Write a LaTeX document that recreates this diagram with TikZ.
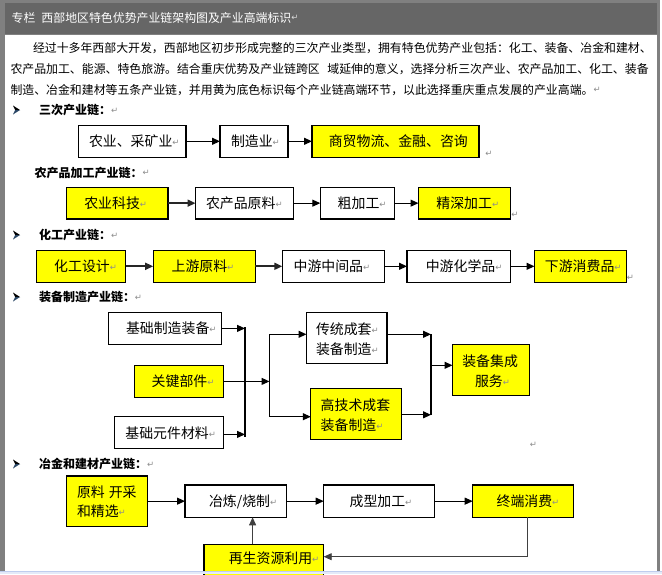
\documentclass[tikz,border=0pt]{standalone}
\usepackage{fontspec}
\setmainfont{Noto Sans CJK SC}
\newfontfamily\djv{DejaVu Sans}
\usetikzlibrary{arrows.meta}
\definecolor{framegray}{HTML}{808080}
\definecolor{hdrgray}{HTML}{666666}
\definecolor{ylw}{HTML}{FFFF00}
\definecolor{pmg}{HTML}{8C8C8C}
\definecolor{winblue}{HTML}{BFCDEE}
\definecolor{winblue2}{HTML}{E4EAF8}
\definecolor{bulblue}{HTML}{2B4766}
\newcommand{\pmk}{{\mdseries\djv\fontsize{8.5}{9}\selectfont\color{pmg}\raisebox{1.2pt}{↵}}}
\newcommand{\pmkw}{{\mdseries\djv\fontsize{8.5}{9}\selectfont\color{white!85!black}\raisebox{1.2pt}{↵}}}
\newcommand{\tx}[5]{\node[txt,font=\fontsize{#4}{#4}\selectfont] (#1) at (#2,{#3+0.38*#4}) {#5};}
\newcommand{\bx}[6]{\node[boxs,fill=#6,minimum width={#4-#2},minimum height={#5-#3}] (#1) at ({(#2+#4)/2},{(#3+#5)/2}) {};}
\newcommand{\bul}[1]{%
  \fill[black] (13,#1-4.5) -- (20,#1) -- (15.2,#1) -- cycle;
  \fill[bulblue] (15.2,#1) -- (20,#1) -- (13,#1+4.5) -- cycle;}
\tikzset{
  boxs/.style={draw=black, line width=1.1pt, inner sep=0pt, outer sep=0pt},
  txt/.style={inner sep=0pt, outer sep=0pt, anchor=base west},
  arr/.style={line width=1.1pt, -{Triangle[length=8pt,width=7pt]}},
  arrb/.style={arr, line width=1.7pt, draw=black!85},
  ln/.style={line width=1.1pt},
  fbl/.style={arr, line width=0.9pt, draw=black!75},
  pmnode/.style={inner sep=0pt, outer sep=0pt},
}
\begin{document}
\begin{tikzpicture}[x=1pt,y=-1pt]
\useasboundingbox (0,0) rectangle (662,574);
\clip (0,0) rectangle (662,574);
% frame
\fill[white] (0,0) rectangle (662,574);
\fill[framegray] (0,0) rectangle (660,571.5);
\fill[hdrgray] (4.5,3.3) rectangle (656.5,34);
\fill[white] (4.5,34.5) rectangle (656.5,571.5);

% header and paragraph
\tx{hd}{11.7}{17.5}{11.9}{\color{white}专栏\hspace{6pt}西部地区特色优势产业链架构图及产业高端标识\pmkw}
\tx{p1}{33}{47.5}{11.9}{经过十多年西部大开发，西部地区初步形成完整的三次产业类型，拥有特色优势产业包括：化工、装备、冶金和建材、}
\tx{p2}{10.5}{68.5}{11.9}{农产品加工、能源、特色旅游。结合重庆优势及产业链跨区\hspace{7.5pt}域延伸的意义，选择分析三次产业、农产品加工、化工、装备}
\tx{p3}{10.5}{89.5}{11.9}{制造、冶金和建材等五条产业链，并用黄为底色标识每个产业链高端环节，以此选择重庆重点发展的产业高端。\pmk}

% headings
\bul{110}
\tx{h1}{39}{110}{12}{\bfseries 三次产业链：\pmk}
\tx{h2}{34.7}{172.5}{12}{\bfseries 农产品加工产业链：\pmk}
\bul{235}
\tx{h3}{39}{235}{12}{\bfseries 化工产业链：\pmk}
\bul{297}
\tx{h4}{39}{297}{12}{\bfseries 装备制造产业链：\pmk}
\bul{464}
\tx{h5}{39}{464}{12}{\bfseries 冶金和建材产业链：\pmk}

% chain 1
\bx{b11}{78.5}{125.3}{186}{157.3}{white}
\bx{b12}{220}{125.3}{288}{157.3}{white}
\bx{b13}{312}{125.3}{479}{157.3}{ylw}
\tx{t11}{89}{141.3}{13.9}{农业、采矿业\pmk}
\tx{t12}{231}{141.3}{13.9}{制造业\pmk}
\tx{t13}{328.8}{141.3}{13.9}{商贸物流、金融、咨询}
\draw[arr] (b11) -- (b12);
\draw[arr] (b12) -- (b13);
\node[pmnode] (e1) at (489,154) {\pmk};

% chain 2
\bx{b21}{66.4}{187.3}{168}{219}{ylw}
\bx{b22}{195.5}{187.3}{293.7}{219}{white}
\bx{b23}{320.3}{187.3}{394.4}{219}{white}
\bx{b24}{418.5}{187.3}{510.8}{219}{ylw}
\tx{t21}{84.3}{203.2}{13.9}{农业科技\pmk}
\tx{t22}{206}{203.2}{13.9}{农产品原料\pmk}
\tx{t23}{337.7}{203.2}{13.9}{粗加工\pmk}
\tx{t24}{436.4}{203.2}{13.9}{精深加工\pmk}
\draw[arrb] (b21) -- (b22);
\draw[arr] (b22) -- (b23);
\draw[arr] (b23) -- (b24);
\node[pmnode] (e2) at (515,215) {\pmk};

% chain 3
\bx{b31}{36.4}{250.3}{125.7}{282.3}{ylw}
\bx{b32}{153.2}{250.3}{255.2}{282.3}{ylw}
\bx{b33}{282.3}{250.3}{384.2}{282.3}{white}
\bx{b34}{407}{250.3}{510.4}{282.3}{white}
\bx{b35}{534.5}{250.3}{626.7}{282.3}{ylw}
\tx{t31}{54.2}{266.3}{13.9}{化工设计\pmk}
\tx{t32}{171.6}{266.3}{13.9}{上游原料\pmk}
\tx{t33}{293.6}{266.3}{13.9}{中游中间品\pmk}
\tx{t34}{425.8}{266.3}{13.9}{中游化学品\pmk}
\tx{t35}{544.9}{266.3}{13.9}{下游消费品\pmk}
\draw[arrb] (b31) -- (b32);
\draw[arrb] (b32) -- (b33);
\draw[arr] (b33) -- (b34);
\draw[arr] (b34) -- (b35);
\node[pmnode] (e3) at (630.5,278) {\pmk};

% chain 4
\bx{b41}{108.5}{312.5}{221.7}{344.3}{white}
\bx{b42}{134.5}{365.5}{223.5}{397.3}{ylw}
\bx{b43}{114.5}{416.5}{223.5}{448.3}{white}
\bx{b44}{306.5}{312.5}{387}{363.3}{white}
\bx{b45}{310.8}{388.3}{401.8}{439.3}{ylw}
\bx{b46}{452.5}{344.3}{529.5}{395.7}{ylw}
\tx{t41}{126}{328.3}{13.9}{基础制造装备\pmk}
\tx{t42}{151.7}{381}{13.9}{关键部件\pmk}
\tx{t43}{125.4}{433}{13.9}{基础元件材料\pmk}
\tx{t44a}{316}{329.3}{13.9}{传统成套\pmk}
\tx{t44b}{316}{349.3}{13.9}{装备制造\pmk}
\tx{t45a}{320.7}{405.3}{13.9}{高技术成套}
\tx{t45b}{320.7}{425}{13.9}{装备制造\pmk}
\tx{t46a}{462.3}{361}{13.9}{装备集成}
\tx{t46b}{475}{381}{13.9}{服务\pmk}
\coordinate (v1t) at (245,327);
\coordinate (v1b) at (245,436.5);
\coordinate (a43) at ([yshift=-2pt]b43.east);
\draw[ln] (v1t) -- (v1b);
\draw[arr] (b41.east) -- (b41.east -| v1t);
\draw[arr] (a43) -- (a43 -| v1t);
\coordinate (v2t) at (269.5,334.3);
\coordinate (v2b) at (269.5,416.7);
\draw[ln] (v2t) -- (v2b);
\draw[arr] (b42.east) -- (b42.east -| v2t);
\draw[arr] (v2t) -- (v2t -| b44.west);
\draw[arr] (v2b) -- (v2b -| b45.west);
\coordinate (v3t) at (431,334.3);
\coordinate (v3b) at (431,414.8);
\coordinate (v3m) at (431,365.3);
\draw[ln] (v3t) -- (v3b);
\draw[arr] (v3t -| b44.east) -- (v3t);
\draw[arr] (v3b -| b45.east) -- (v3b);
\draw[arr] (v3m) -- (v3m -| b46.west);
\node[pmnode] (e4) at (533.5,445) {\pmk};

% chain 5
\bx{b51}{66.4}{476}{147.7}{526.3}{ylw}
\bx{b52}{185}{485}{286.5}{517.3}{white}
\bx{b53}{323.7}{485}{434.6}{517.3}{white}
\bx{b54}{472.7}{485}{573.8}{517.3}{ylw}
\bx{b55}{204}{544.3}{323.7}{590}{ylw}
\tx{t51a}{77}{492.3}{13.9}{原料\kern4pt 开采}
\tx{t51b}{77}{511.7}{13.9}{和精选\pmk}
\tx{t52}{209}{501.2}{13.9}{冶炼/烧制\pmk}
\tx{t53}{349.6}{501.2}{13.9}{成型加工\pmk}
\tx{t54}{496.6}{501.2}{13.9}{终端消费\pmk}
\tx{t55}{228.8}{558.3}{13.9}{再生资源利用\pmk}
\draw[arr] (b51) -- (b52);
\draw[arr] (b52) -- (b53);
\draw[arr] (b53) -- (b54);
\coordinate (ux) at (252.6,530);
\draw[fbl] (b55.north -| ux) -- (b52.south -| ux);
\coordinate (fbk) at (527,556.7);
\draw[fbl] (b54.south -| fbk) -- (fbk) -- (b55.east |- fbk);

% window bottom
\fill[winblue2] (0,571.5) rectangle (662,574);
\fill[winblue] (0,571.3) rectangle (662,572.4);
\end{tikzpicture}
\end{document}
